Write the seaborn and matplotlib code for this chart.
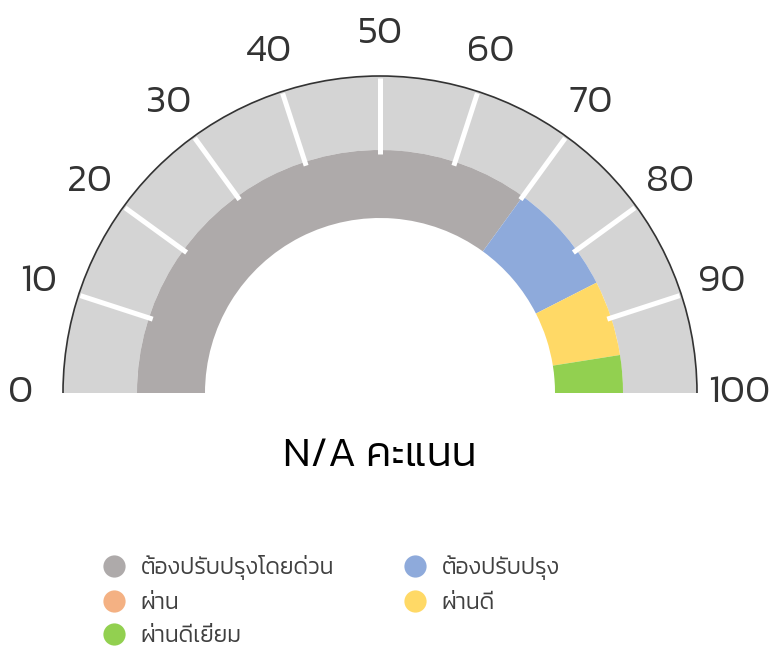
import numpy as np
import matplotlib
matplotlib.use("Agg")
import matplotlib.pyplot as plt
from matplotlib.patches import Wedge, Arc
from matplotlib.lines import Line2D
import seaborn as sns


# ---- data ----
SCALE_MIN, SCALE_MAX = 0, 100
TICK_VALUES = [0, 10, 20, 30, 40, 50, 60, 70, 80, 90, 100]
BAND_LABELS = ["ต้องปรับปรุงโดยด่วน", "ต้องปรับปรุง", "ผ่าน", "ผ่านดี", "ผ่านดีเยี่ยม"]
BAND_STARTS = [0, 70, 85, 85, 95]
BAND_ENDS = [70, 85, 85, 95, 100]
SCORE_TEXT = "N/A คะแนน"

# ---- style ----
BAND_COLORS = ["#aeaaaa", "#8eaadb", "#f4b183", "#ffd966", "#92d050"]
TRACK_COLOR = "#d4d4d4"
W, H = 775, 659
CX, CY = 380, H - 393
R_OUT, R_MID, R_IN = 317, 243, 175
FONTS = ["Kanit", "Prompt", "Sarabun", "DejaVu Sans"]


def angle_of(v):
    # value -> degrees, 0 on the left, 100 on the right
    return 180 - 180 * (v - SCALE_MIN) / (SCALE_MAX - SCALE_MIN)


def polar(v, r):
    a = np.radians(angle_of(v))
    return CX + r * np.cos(a), CY + r * np.sin(a)


def main():
    sns.set_theme(style="white")
    plt.rcParams["font.family"] = FONTS

    fig = plt.figure(figsize=(W / 100, H / 100), dpi=100)
    ax = fig.add_axes([0, 0, 1, 1])
    ax.set_xlim(0, W)
    ax.set_ylim(0, H)
    ax.axis("off")

    # grey track
    ax.add_patch(Wedge((CX, CY), R_OUT, 0, 180, width=R_OUT - R_MID, color=TRACK_COLOR, lw=0))

    # coloured bands
    for lo, hi, col in zip(BAND_STARTS, BAND_ENDS, BAND_COLORS):
        if hi <= lo:
            continue
        ax.add_patch(Wedge((CX, CY), R_MID, angle_of(hi), angle_of(lo),
                           width=R_MID - R_IN, color=col, lw=0))

    # outer rim
    ax.add_patch(Arc((CX, CY), 2 * R_OUT, 2 * R_OUT, theta1=0, theta2=180, color="#333333", lw=1.2))

    # ticks + labels
    for v in TICK_VALUES:
        if SCALE_MIN < v < SCALE_MAX:
            x0, y0 = polar(v, 239)
            x1, y1 = polar(v, 315)
            ax.plot([x0, x1], [y0, y1], color="white", lw=3.6, solid_capstyle="butt")
        tx, ty = polar(v, 359)
        ax.text(tx, ty, f"{v}", ha="center", va="center", fontsize=28,
                color="#333333", fontweight=300)

    ax.text(CX, H - 456, SCORE_TEXT, ha="center", va="center", fontsize=30,
            color="black", fontweight=300)

    order = [0, 2, 4, 1, 3]
    handles = [Line2D([], [], ls="", marker="o", markersize=16, markeredgewidth=0,
                      color=BAND_COLORS[i]) for i in order]
    labels = [BAND_LABELS[i] for i in order]
    fig.legend(handles, labels, loc="upper left", bbox_to_anchor=(80 / W, 1 - 534 / H),
               ncol=2, frameon=False, handlelength=1.15, handletextpad=0.6,
               columnspacing=2.95, labelspacing=0.57, labelcolor="#404040",
               prop={"family": FONTS, "weight": 300, "size": 16.5})

    fig.savefig("out.png", dpi=100)


if __name__ == "__main__":
    main()
